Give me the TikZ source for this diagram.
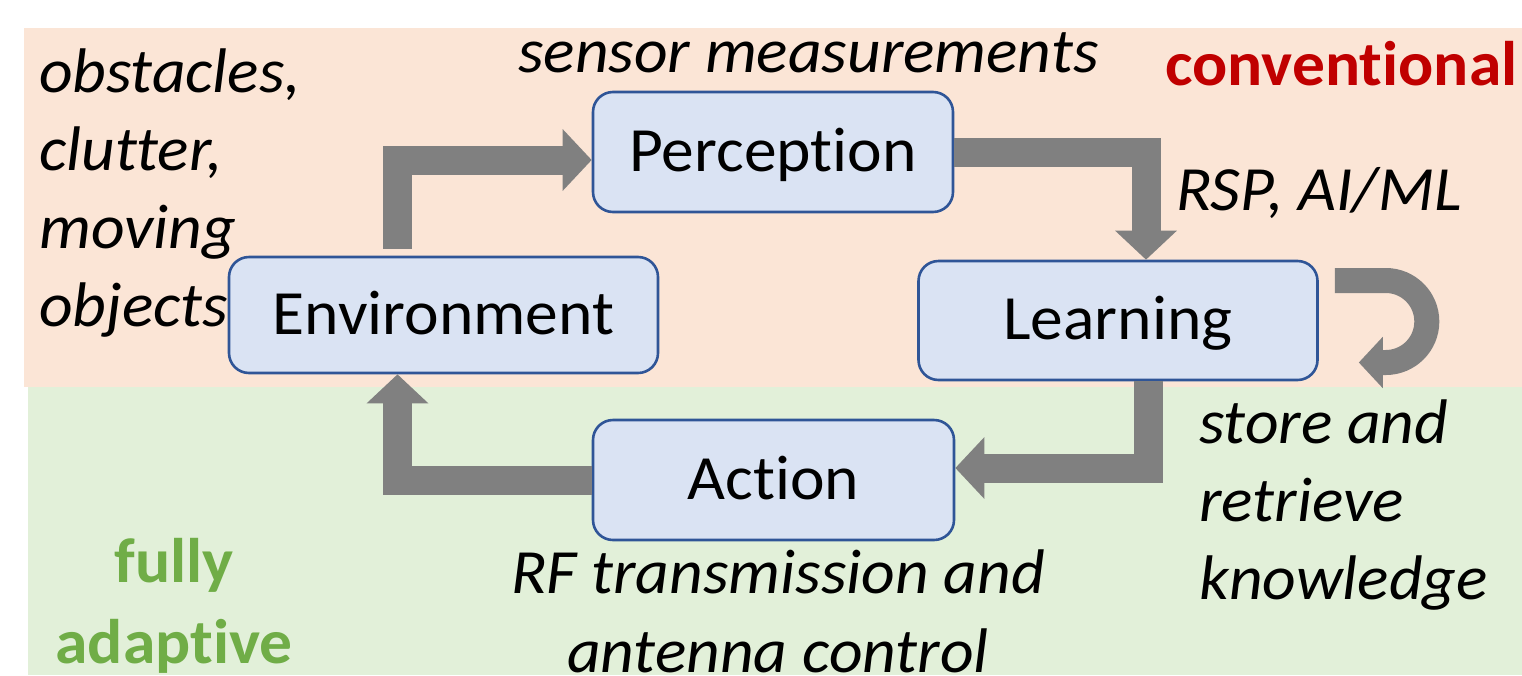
\documentclass[tikz,border=0pt]{standalone}
\usepackage{fontspec}
\setmainfont{Carlito}[Ligatures=NoCommon, FakeStretch=1.04]
\usetikzlibrary{arrows.meta,calc}
\definecolor{peach}{HTML}{FBE5D6}
\definecolor{mint}{HTML}{E2F0D9}
\definecolor{boxfill}{HTML}{DAE3F3}
\definecolor{boxline}{HTML}{2F5597}
\definecolor{flow}{HTML}{808080}
\definecolor{tagred}{HTML}{C00000}
\definecolor{taggreen}{HTML}{70AD47}
\begin{document}
\begin{tikzpicture}[x=1pt,y=-1pt,
  every node/.style={font=\fontsize{63}{79}\selectfont, inner sep=0pt},
  stage/.style={draw=boxline, line width=2.6pt, fill=boxfill, rounded corners=20pt,
                text height=38pt, text depth=0pt},
  note/.style={font=\fontsize{63}{79}\selectfont\itshape},
  tag/.style={font=\fontsize{63}{79}\selectfont\bfseries},
  flowarrow/.style={draw=flow, line width=29pt, line join=miter,
                    -{Triangle[width=60pt,length=29pt]}},
  looparrow/.style={draw=flow, line width=25pt,
                    -{Triangle[width=50pt,length=24pt]}},
]
\useasboundingbox (0,0) rectangle (1522,675);
% two bands: conventional (top) and fully adaptive (bottom)
\fill[peach] (24,28) rectangle (1522,387);
\fill[mint] (28,387) rectangle (1522,675);

% the four stages of the loop
\node[stage, minimum width=360pt, minimum height=120pt] (perc) at (773,152) {Perception};
\node[stage, minimum width=429pt, minimum height=116pt] (env) at (443.5,315) {Environment};
\node[stage, minimum width=399pt, minimum height=119pt] (learn) at (1118,320.5) {Learning};
\node[stage, minimum width=361pt, minimum height=120pt] (act) at (773.5,480) {Action};

% block arrows between the stages
\draw[flowarrow] ($(env.north)+(-46,-7)$) |- ($(perc.west)+(0,8)$);
\draw[flowarrow] (perc.east) -| ($(learn.north)+(28,0)$);
\draw[flowarrow] ($(learn.south)+(30,0)$) |- ($(act.east)+(0,-12)$);
\draw[flowarrow] (act.west) -| ($(env.south)+(-46,0)$);

% memory loop beside the learning stage
\coordinate (loopA) at ($(learn.east)+(16,-40)$);
\coordinate (loopB) at ($(learn.east)+(40,42)$);
\draw[looparrow] (loopA) -- ++(51,0) arc[start angle=-90, end angle=90, radius=41] -- (loopB);

% annotations
\node[note, anchor=base west] (envnoteA) at (39,92) {obstacles,};
\node[note, anchor=base west] (envnoteB) at (39,170) {clutter,};
\node[note, anchor=base west] (envnoteC) at (39,248) {moving};
\node[note, anchor=base west] (envnoteD) at (39,326) {objects};
\node[note, anchor=base west] (percnote) at (518,72) {sensor measurements};
\node[note, anchor=base west] (learnnote) at (1176,210) {RSP, AI/ML};
\node[note, anchor=base west] (memA) at (1199,443) {store and};
\node[note, anchor=base west] (memB) at (1199,521) {retrieve};
\node[note, anchor=base west] (memC) at (1199,599) {knowledge};
\node[note, anchor=base] (actnoteA) at (778,593) {RF transmission and};
\node[note, anchor=base] (actnoteB) at (778,672) {antenna control};

% band labels
\node[tag, text=tagred, anchor=base west] (conv) at (1165,85) {conventional};
\node[tag, text=taggreen, anchor=base] (adaptA) at (174,582) {fully};
\node[tag, text=taggreen, anchor=base] (adaptB) at (174,663) {adaptive};
\end{tikzpicture}
\end{document}
